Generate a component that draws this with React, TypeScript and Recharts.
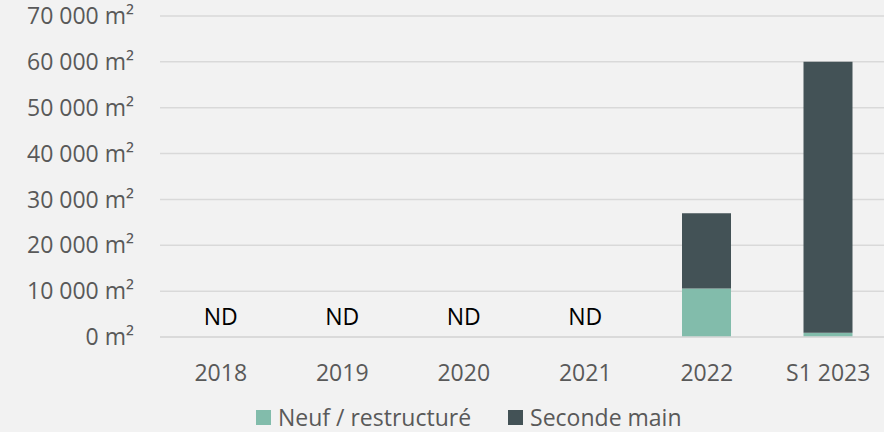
import { BarChart, Bar, XAxis, YAxis, CartesianGrid } from 'recharts';

const categories = ['2018', '2019', '2020', '2021', '2022', 'S1 2023'];
const neuf: (number | null)[] = [null, null, null, null, 10600, 900];
const secondeMain: (number | null)[] = [null, null, null, null, 16400, 59100];
const ndLabels = ['ND', 'ND', 'ND', 'ND', '', ''];
const yTicks = [0, 10000, 20000, 30000, 40000, 50000, 60000, 70000];

const NEUF_COLOR = '#82bcab';
const SECONDE_COLOR = '#435256';
const TEXT_COLOR = '#595959';
const FONT = '"Open Sans", sans-serif';
const FS = 23;

const chartData = categories.map((cat, i) => ({
  cat,
  neuf: neuf[i],
  seconde: secondeMain[i],
}));

// "70 000 m²" style, with a plain space as thousands separator
const formatArea = (v: number) =>
  `${String(v).replace(/\B(?=(\d{3})+(?!\d))/g, ' ')} m²`;

// category tick, plus the "ND" marker sitting just above the zero line
function CategoryTick(props: any) {
  const { x, y, payload, index } = props;
  const nd = ndLabels[index];
  return (
    <g>
      {nd && (
        <text x={x} y={y - 12} textAnchor="middle" fill="#000000" fontSize={FS} fontFamily={FONT}>
          {nd}
        </text>
      )}
      <text x={x} y={y + 44} textAnchor="middle" fill={TEXT_COLOR} fontSize={FS} fontFamily={FONT}>
        {payload.value}
      </text>
    </g>
  );
}

function LegendBox() {
  const items = [
    { label: 'Neuf / restructuré', color: NEUF_COLOR },
    { label: 'Seconde main', color: SECONDE_COLOR },
  ];
  return (
    <div
      style={{
        position: 'absolute',
        left: 256,
        top: 401,
        display: 'flex',
        alignItems: 'center',
        fontFamily: FONT,
        fontSize: FS,
        color: TEXT_COLOR,
        whiteSpace: 'nowrap',
      }}
    >
      {items.map((it, i) => (
        <div key={it.label} style={{ display: 'flex', alignItems: 'center', marginLeft: i === 0 ? 0 : 37 }}>
          <span style={{ width: 15, height: 15, background: it.color, display: 'inline-block', marginRight: 7 }} />
          <span>{it.label}</span>
        </div>
      ))}
    </div>
  );
}

export default function App() {
  return (
    <div
      style={{
        position: 'absolute',
        top: 0,
        left: 0,
        width: 884,
        height: 432,
        overflow: 'hidden',
        background: '#f2f2f2',
        fontFamily: FONT,
      }}
    >
      <BarChart
        width={890}
        height={432}
        data={chartData}
        margin={{ top: 16, right: 1, left: 0, bottom: 65 }}
        barSize={49}
      >
        <CartesianGrid vertical={false} stroke="#d9d9d9" strokeWidth={1.5} />
        <XAxis
          dataKey="cat"
          height={30}
          axisLine={{ stroke: '#d9d9d9', strokeWidth: 1.5 }}
          tickLine={false}
          tickSize={0}
          tickMargin={0}
          tick={<CategoryTick />}
          interval={0}
        />
        <YAxis
          width={160}
          domain={[0, 70000]}
          ticks={yTicks}
          tickFormatter={formatArea}
          axisLine={false}
          tickLine={false}
          tickSize={0}
          tickMargin={26}
          tick={{ fill: TEXT_COLOR, fontSize: FS, fontFamily: FONT }}
        />
        <Bar dataKey="neuf" stackId="a" fill={NEUF_COLOR} isAnimationActive={false} />
        <Bar dataKey="seconde" stackId="a" fill={SECONDE_COLOR} isAnimationActive={false} />
      </BarChart>
      <LegendBox />
    </div>
  );
}
